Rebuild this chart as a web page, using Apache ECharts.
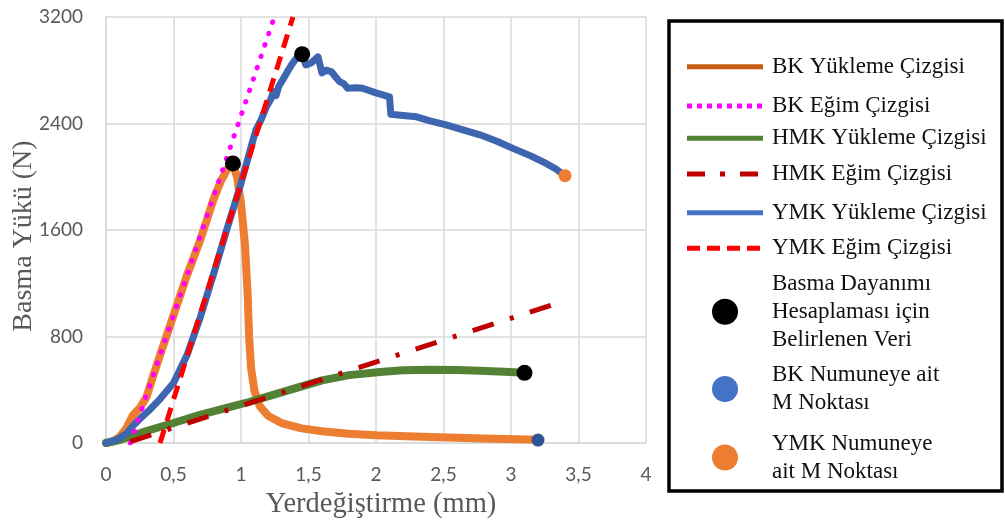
<!DOCTYPE html>
<html>
<head>
<meta charset="utf-8">
<script src="https://cdn.jsdelivr.net/npm/echarts@6/dist/echarts.min.js"></script>
<style>
  html, body { margin: 0; padding: 0; background: #ffffff; }
  #chart { width: 1005px; height: 523px; }
</style>
</head>
<body>
<div id="chart"></div>
<script>
// Displacement (mm) vs. compressive load (N)
const bkLoad = [
  [0,0],[0.05,12],[0.1,45],[0.15,110],[0.2,210],[0.25,262],[0.3,345],[0.35,505],
  [0.4,660],[0.5,960],[0.6,1260],[0.7,1530],[0.8,1840],[0.85,1965],[0.9,2060],
  [0.94,2100],[0.97,2000],[1.0,1800],[1.03,1480],[1.05,1100],[1.06,800],
  [1.075,560],[1.1,390],[1.14,275],[1.2,205],[1.3,150],[1.45,110],[1.6,88],
  [1.8,70],[2.0,58],[2.4,45],[2.8,33],[3.2,25]
];
const bkSlope = [[0.18,0],[1.247,3200]];
const hmkLoad = [
  [0,0],[0.1,22],[0.2,55],[0.3,90],[0.4,120],[0.5,150],[0.69,210],[0.9,265],
  [1.06,308],[1.25,365],[1.43,420],[1.6,470],[1.8,510],[2.03,534],[2.2,546],
  [2.4,550],[2.6,548],[2.77,542],[2.95,535],[3.1,527]
];
const hmkSlope = [[0.18,10],[3.3,1036]];
const ymkLoad = [
  [0,0],[0.08,25],[0.15,70],[0.2,130],[0.25,180],[0.32,246],[0.4,330],[0.5,450],
  [0.6,660],[0.7,950],[0.8,1280],[0.9,1620],[1.0,1950],[1.09,2280],[1.11,2350],
  [1.15,2430],[1.19,2530],[1.22,2580],[1.24,2640],[1.26,2610],[1.28,2680],
  [1.31,2730],[1.35,2800],[1.38,2850],[1.43,2915],[1.46,2900],[1.48,2840],
  [1.52,2855],[1.57,2900],[1.60,2780],[1.63,2800],[1.67,2790],[1.70,2750],
  [1.73,2715],[1.76,2700],[1.79,2665],[1.85,2668],[1.9,2665],[2.0,2630],
  [2.1,2600],[2.11,2470],[2.2,2460],[2.3,2450],[2.4,2420],[2.52,2390],
  [2.65,2350],[2.77,2315],[2.9,2265],[3.01,2215],[3.15,2155],[3.26,2100],
  [3.33,2060],[3.37,2030]
];
const ymkSlope = [[0.40,0],[1.385,3200]];
const strengthPoints = [[0.94,2100],[1.453,2920],[3.1,527]];
const bkMPoint = [[3.2,22]];
const ymkMPoint = [[3.4,2008]];

const xTicks = { min: 0, max: 4, step: 0.5 };
const yTicks = { min: 0, max: 3200, step: 800 };

const seriesNames = [
  'BK Yükleme Çizgisi',
  'BK Eğim Çizgisi',
  'HMK Yükleme Çizgisi',
  'HMK Eğim Çizgisi',
  'YMK Yükleme Çizgisi',
  'YMK Eğim Çizgisi',
  'Basma Dayanımı\nHesaplaması için\nBelirlenen Veri',
  'BK Numuneye ait\nM Noktası',
  'YMK Numuneye\nait M Noktası'
];

const serif = '"Liberation Serif", "Times New Roman", serif';
const sans = 'Lato, "Open Sans", sans-serif';

function lineSeries(name, data, color, width, type, z) {
  return {
    name, type: 'line', data, showSymbol: false, symbol: 'none', z,
    lineStyle: { color, width, type, cap: Array.isArray(type) ? (type[0] < 1 ? 'round' : 'butt') : 'round', join: 'round' },
    emphasis: { disabled: true }, animation: false
  };
}
function dotSeries(name, data, color, size) {
  return {
    name, type: 'scatter', data, symbol: 'circle', symbolSize: size, z: 10,
    itemStyle: { color, opacity: 1 }, emphasis: { disabled: true }, animation: false
  };
}

// Legend panel on the right
const legendFont = '23px ' + serif;
const legendGraphics = [];
legendGraphics.push({
  type: 'rect', shape: { x: 669, y: 21, width: 333, height: 470 },
  style: { fill: '#ffffff', stroke: '#000000', lineWidth: 3.5 }, z: 100
});
const legendLines = [
  { y: 66.7, color: '#c55a11', dash: null },
  { y: 106, color: '#ff00ff', dash: [5, 5] },
  { y: 138.3, color: '#548235', dash: null },
  { y: 174, color: '#c00000', dash: [18, 15, 5, 15] },
  { y: 212.7, color: '#4472c4', dash: null },
  { y: 248.3, color: '#ff0000', dash: [13, 7] }
];
legendLines.forEach((it, i) => {
  legendGraphics.push({
    type: 'line', shape: { x1: 687, y1: it.y, x2: 763, y2: it.y },
    style: { stroke: it.color, lineWidth: 5, lineDash: it.dash || null }, z: 101
  });
  legendGraphics.push({
    type: 'text', z: 101,
    style: { text: seriesNames[i], x: 772, y: it.y, font: legendFont, fill: '#111111', verticalAlign: 'middle' }
  });
});
const legendDots = [
  { y: 311.7, color: '#000000' },
  { y: 389, color: '#4472c4' },
  { y: 457.5, color: '#ed7d31' }
];
legendDots.forEach((it, i) => {
  legendGraphics.push({
    type: 'circle', shape: { cx: 725, cy: it.y, r: 13 }, style: { fill: it.color }, z: 101
  });
  legendGraphics.push({
    type: 'text', z: 101,
    style: { text: seriesNames[6 + i], x: 772, y: it.y, font: legendFont, lineHeight: 28, fill: '#111111', verticalAlign: 'middle' }
  });
});

const chart = echarts.init(document.getElementById('chart'), null, { renderer: 'canvas' });
chart.setOption({
  backgroundColor: '#ffffff',
  animation: false,
  grid: { left: 106, top: 17, width: 540, height: 426, containLabel: false, outerBoundsMode: 'none' },
  xAxis: {
    type: 'value', min: xTicks.min, max: xTicks.max, interval: xTicks.step,
    name: 'Yerdeğiştirme (mm)', nameLocation: 'middle', nameGap: 47, nameMoveOverlap: false,
    nameTextStyle: { fontFamily: serif, fontSize: 28.5, color: '#595959', padding: [0, 0, 0, 10] },
    axisLine: { show: true, lineStyle: { color: '#d9d9d9', width: 1.5 } },
    axisTick: { show: false },
    axisLabel: {
      margin: 22, color: '#595959', fontFamily: sans, fontSize: 19,
      formatter: v => String(v).replace('.', ',')
    },
    splitLine: { show: true, lineStyle: { color: '#d9d9d9', width: 1.5 } }
  },
  yAxis: {
    type: 'value', min: yTicks.min, max: yTicks.max, interval: yTicks.step,
    name: 'Basma Yükü (N)', nameLocation: 'middle', nameGap: 68, nameMoveOverlap: false,
    nameTextStyle: { fontFamily: serif, fontSize: 28, color: '#595959', padding: [0, 12, 0, 0] },
    axisLine: { show: true, lineStyle: { color: '#d9d9d9', width: 1.5 } },
    axisTick: { show: false },
    axisLabel: { margin: 23, color: '#595959', fontFamily: sans, fontSize: 19, formatter: v => String(v) },
    splitLine: { show: true, lineStyle: { color: '#d9d9d9', width: 1.5 } }
  },
  series: [
    lineSeries(seriesNames[0], bkLoad, '#ed7d31', 8, 'solid', 2),
    lineSeries(seriesNames[1], bkSlope, '#ff00ff', 5, [0.5, 11.5], 3),
    lineSeries(seriesNames[2], hmkLoad, '#548235', 8, 'solid', 2),
    lineSeries(seriesNames[3], hmkSlope, '#c00000', 5, [22, 17, 4, 17], 3),
    lineSeries(seriesNames[4], ymkLoad, '#3e66b0', 7, 'solid', 2),
    lineSeries(seriesNames[5], ymkSlope, '#ff0000', 5, [14, 9], 3),
    dotSeries(seriesNames[6], strengthPoints, '#000000', 16),
    dotSeries(seriesNames[7], bkMPoint, '#2f5597', 13),
    dotSeries(seriesNames[8], ymkMPoint, '#ed7d31', 13)
  ],
  graphic: legendGraphics
});
</script>
</body>
</html>
